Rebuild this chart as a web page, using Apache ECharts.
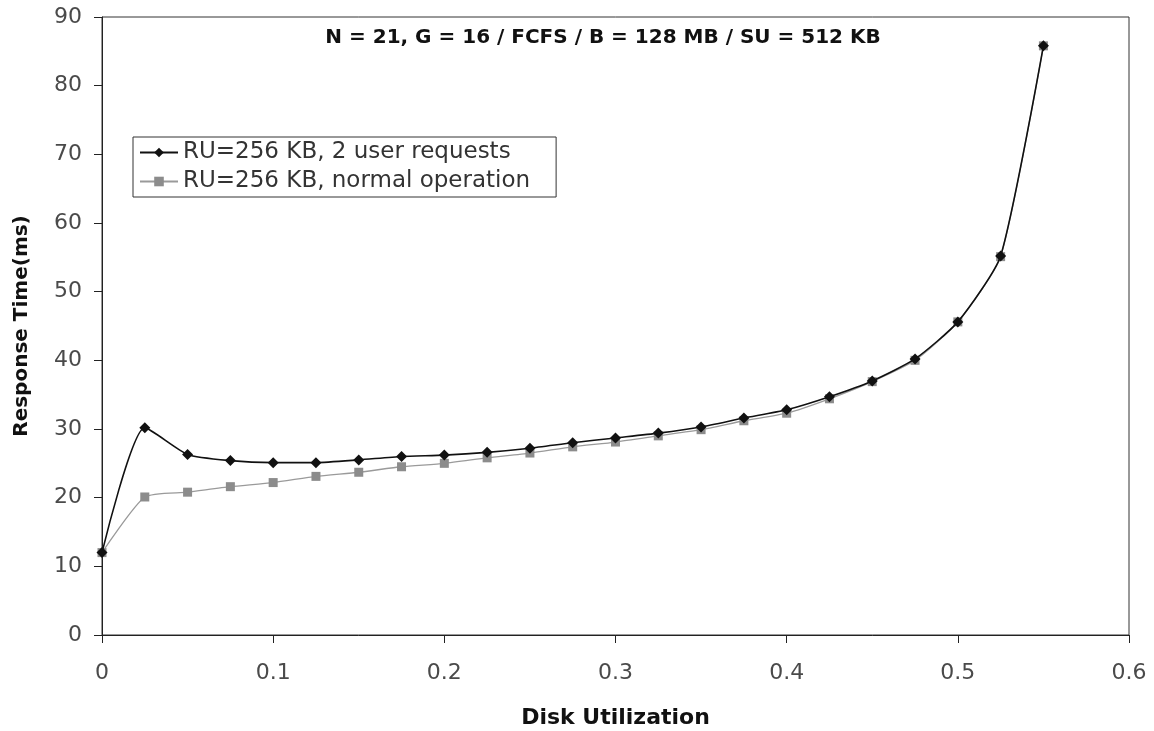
<!DOCTYPE html>
<html>
<head>
<meta charset="utf-8">
<script src="https://cdn.jsdelivr.net/npm/echarts@6/dist/echarts.min.js"></script>
<style>
html, body { margin: 0; padding: 0; background: #fff; }
#chart { width: 1154px; height: 731px; }
</style>
</head>
<body>
<div id="chart"></div>
<script>
// disk utilization steps
var utilization = [0, 0.025, 0.05, 0.075, 0.1, 0.125, 0.15, 0.175, 0.2, 0.225, 0.25, 0.275, 0.3, 0.325, 0.35, 0.375, 0.4, 0.425, 0.45, 0.475, 0.5, 0.525, 0.55];
// response time (ms)
var twoUserReq = [12, 30.2, 26.3, 25.4, 25.1, 25.1, 25.5, 26.0, 26.2, 26.6, 27.2, 28.0, 28.7, 29.4, 30.3, 31.6, 32.8, 34.7, 37.0, 40.2, 45.6, 55.2, 85.8];
var normalOp = [12, 20.1, 20.8, 21.6, 22.2, 23.1, 23.7, 24.5, 25.0, 25.8, 26.5, 27.4, 28.1, 29.0, 29.9, 31.2, 32.3, 34.4, 36.9, 40.0, 45.6, 55.1, 85.8];
var seriesNames = ['RU=256 KB, 2 user requests', 'RU=256 KB, normal operation'];

var pairs = function(xs, ys) {
	return xs.map(function(x, i) { return [x, ys[i]]; });
};

var font = '"DejaVu Sans", "Liberation Sans", sans-serif';
var chart = echarts.init(document.getElementById('chart'));

var option = {
	animation: false,
	backgroundColor: '#fff',
	title: {
		text: 'N = 21, G = 16 / FCFS / B = 128 MB / SU = 512 KB',
		left: 598,
		top: 23,
		textAlign: 'center',
		textStyle: { fontFamily: font, fontSize: 20, fontWeight: 'bold', color: '#111' }
	},
	legend: {
		orient: 'vertical',
		left: 133,
		top: 137,
		itemGap: 6,
		itemWidth: 38,
		itemHeight: 12,
		padding: [4, 26, 4, 6],
		borderColor: '#333',
		borderWidth: 1,
		backgroundColor: '#fff',
		data: seriesNames,
		textStyle: { fontFamily: font, fontSize: 23, color: '#333' }
	},
	grid: {
		left: 102,
		right: 25,
		top: 17,
		bottom: 96,
		outerBoundsMode: 'none',
		show: true,
		borderColor: '#333',
		borderWidth: 1
	},
	xAxis: {
		type: 'value',
		min: 0,
		max: 0.6,
		interval: 0.1,
		name: 'Disk Utilization',
		nameLocation: 'middle',
		nameGap: 72,
		nameTextStyle: { fontFamily: font, fontSize: 22, fontWeight: 'bold', color: '#111' },
		axisLine: { lineStyle: { color: '#222', width: 1 } },
		axisTick: { show: true, length: 8, lineStyle: { color: '#222' } },
		axisLabel: { fontFamily: font, fontSize: 22, color: '#4a4a4a', margin: 27 },
		splitLine: { show: false }
	},
	yAxis: {
		type: 'value',
		min: 0,
		max: 90,
		interval: 10,
		name: 'Response Time(ms)',
		nameLocation: 'middle',
		nameGap: 70,
		nameTextStyle: { fontFamily: font, fontSize: 20, fontWeight: 'bold', color: '#111' },
		axisLine: { show: true, lineStyle: { color: '#222', width: 1 } },
		axisTick: { show: true, length: 8, lineStyle: { color: '#222' } },
		axisLabel: { fontFamily: font, fontSize: 22, color: '#4a4a4a', margin: 20 },
		splitLine: { show: false }
	},
	series: [
		{
			name: seriesNames[1],
			type: 'line',
			smooth: 0.2,
			data: pairs(utilization, normalOp),
			symbol: 'rect',
			symbolSize: 9,
			lineStyle: { color: '#9a9a9a', width: 1.3 },
			itemStyle: { color: '#8c8c8c' },
			z: 2
		},
		{
			name: seriesNames[0],
			type: 'line',
			smooth: 0.2,
			data: pairs(utilization, twoUserReq),
			symbol: 'diamond',
			symbolSize: 11,
			lineStyle: { color: '#111', width: 1.6 },
			itemStyle: { color: '#111' },
			z: 3
		}
	]
};
chart.setOption(option);
</script>
</body>
</html>
